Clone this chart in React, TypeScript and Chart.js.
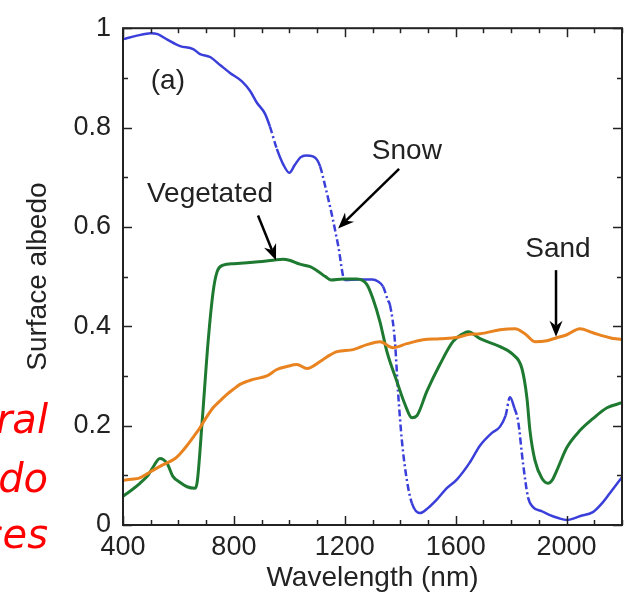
import React, { useEffect, useRef } from 'react';
import { Chart, registerables } from 'chart.js';

Chart.register(...registerables);

// ---------- data (wavelength in nm, surface albedo) ----------
const snowNm = [400, 450, 500, 525, 560, 606, 653, 678, 714, 750, 786, 829, 858, 883, 912, 930, 955, 977, 1000, 1020, 1040, 1060, 1085, 1100, 1111, 1129, 1154, 1176, 1200, 1250, 1300, 1320, 1338, 1356, 1363, 1381, 1392, 1406, 1424, 1442, 1471, 1500, 1530, 1568, 1605, 1650, 1688, 1730, 1760, 1780, 1796, 1812, 1825, 1843, 1861, 1879, 1910, 1940, 1970, 2001, 2050, 2095, 2130, 2156, 2200];
const snowAlbedo = [0.978, 0.985, 0.99, 0.988, 0.977, 0.964, 0.958, 0.948, 0.942, 0.926, 0.91, 0.893, 0.874, 0.85, 0.828, 0.802, 0.757, 0.727, 0.709, 0.725, 0.74, 0.744, 0.742, 0.735, 0.722, 0.683, 0.623, 0.563, 0.493, 0.494, 0.494, 0.49, 0.48, 0.452, 0.443, 0.369, 0.269, 0.17, 0.09, 0.044, 0.024, 0.034, 0.05, 0.074, 0.092, 0.125, 0.16, 0.185, 0.198, 0.22, 0.257, 0.235, 0.21, 0.124, 0.056, 0.036, 0.028, 0.02, 0.014, 0.01, 0.018, 0.026, 0.045, 0.064, 0.096];

const vegNm = [400, 430, 461, 490, 508, 533, 559, 580, 605, 631, 660, 668, 685, 707, 725, 739, 761, 800, 869, 941, 977, 1000, 1038, 1075, 1100, 1130, 1150, 1194, 1244, 1280, 1302, 1327, 1352, 1388, 1417, 1442, 1460, 1496, 1543, 1590, 1626, 1645, 1688, 1760, 1807, 1839, 1857, 1868, 1886, 1911, 1933, 1950, 1965, 2001, 2048, 2095, 2146, 2200];
const vegAlbedo = [0.058, 0.07, 0.084, 0.1, 0.116, 0.134, 0.124, 0.098, 0.086, 0.077, 0.074, 0.088, 0.204, 0.369, 0.469, 0.509, 0.523, 0.526, 0.529, 0.533, 0.535, 0.533, 0.525, 0.52, 0.512, 0.5, 0.493, 0.495, 0.495, 0.484, 0.455, 0.409, 0.349, 0.289, 0.243, 0.216, 0.22, 0.269, 0.323, 0.369, 0.385, 0.389, 0.375, 0.359, 0.343, 0.315, 0.256, 0.19, 0.13, 0.094, 0.084, 0.092, 0.11, 0.156, 0.19, 0.214, 0.236, 0.246];

const sandNm = [400, 430, 461, 490, 508, 540, 588, 610, 631, 655, 678, 700, 725, 750, 775, 800, 822, 869, 919, 955, 991, 1027, 1064, 1111, 1140, 1172, 1230, 1280, 1327, 1374, 1424, 1482, 1543, 1608, 1650, 1688, 1760, 1814, 1850, 1886, 1929, 1965, 2001, 2048, 2095, 2156, 2200];
const sandAlbedo = [0.09, 0.092, 0.095, 0.104, 0.11, 0.12, 0.134, 0.146, 0.16, 0.178, 0.196, 0.216, 0.236, 0.25, 0.263, 0.274, 0.283, 0.293, 0.3, 0.313, 0.319, 0.323, 0.315, 0.329, 0.34, 0.349, 0.353, 0.363, 0.369, 0.357, 0.365, 0.373, 0.375, 0.378, 0.384, 0.385, 0.393, 0.395, 0.385, 0.369, 0.371, 0.377, 0.383, 0.395, 0.387, 0.377, 0.373];

const xTickValues = [400, 800, 1200, 1600, 2000];
const yTickValues = [0, 0.2, 0.4, 0.6, 0.8, 1];
const xRange = [400, 2200];
const yRange = [0, 1];

// annotation texts (positions in data units)
const labelTexts = ['(a)', 'Vegetated', 'Snow', 'Sand'];
const labelNm = [562, 714, 1424, 1969];
const labelAlbedo = [0.894, 0.665, 0.752, 0.555];
// arrows: tail -> head (data units)
const arrowFromNm = [887, 1396, 1962];
const arrowFromAlbedo = [0.623, 0.717, 0.513];
const arrowToNm = [952, 1176, 1962];
const arrowToAlbedo = [0.533, 0.597, 0.379];

const sideTexts = ['ral', 'do', 'ces'];

const FONT = "'Liberation Sans', Arial, Helvetica, sans-serif";
const TICK_SIZE = 27;
const TEXT_SIZE = 28;
const INK = '#222222';

const toPoints = (xs: number[], ys: number[]) => xs.map((v, i) => ({ x: v, y: ys[i] }));

const framePlugin = {
  id: 'frameTicks',
  afterDraw(chart: any) {
    const { ctx, chartArea } = chart;
    const { left, right, top, bottom } = chartArea;
    const xs = chart.scales.x;
    const ys = chart.scales.y;
    ctx.save();
    ctx.strokeStyle = INK;
    ctx.lineWidth = 1.5;
    const seg = (a: number, b: number, c: number, d: number) => {
      ctx.beginPath();
      ctx.moveTo(a, b);
      ctx.lineTo(c, d);
      ctx.stroke();
    };
    for (let i = 0; i <= 18; i++) {
      const v = xRange[0] + i * 100;
      const px = Math.round(xs.getPixelForValue(v)) + 0.5;
      const len = i % 4 === 0 ? 9 : 5;
      seg(px, bottom, px, bottom - len);
      seg(px, top, px, top + len);
    }
    for (let i = 0; i <= 10; i++) {
      const v = i / 10;
      const py = Math.round(ys.getPixelForValue(v)) + 0.5;
      const len = i % 2 === 0 ? 9 : 5;
      seg(left, py, left + len, py);
      seg(right, py, right - len, py);
    }
    ctx.lineWidth = 2;
    ctx.strokeRect(left, top, right - left, bottom - top);
    ctx.restore();
  },
};

const annotationPlugin = {
  id: 'annotations',
  afterDatasetsDraw(chart: any) {
    const { ctx } = chart;
    const xs = chart.scales.x;
    const ys = chart.scales.y;
    ctx.save();
    ctx.fillStyle = INK;
    ctx.font = `${TEXT_SIZE}px ${FONT}`;
    ctx.textAlign = 'center';
    ctx.textBaseline = 'middle';
    labelTexts.forEach((t, i) => {
      ctx.fillText(t, xs.getPixelForValue(labelNm[i]), ys.getPixelForValue(labelAlbedo[i]));
    });
    ctx.strokeStyle = '#000';
    ctx.fillStyle = '#000';
    ctx.lineWidth = 2.5;
    arrowFromNm.forEach((_, i) => {
      const x0 = xs.getPixelForValue(arrowFromNm[i]);
      const y0 = ys.getPixelForValue(arrowFromAlbedo[i]);
      const x1 = xs.getPixelForValue(arrowToNm[i]);
      const y1 = ys.getPixelForValue(arrowToAlbedo[i]);
      const ang = Math.atan2(y1 - y0, x1 - x0);
      const headLen = 16;
      const headW = 6.5;
      const notch = 11;
      const ux = Math.cos(ang);
      const uy = Math.sin(ang);
      ctx.beginPath();
      ctx.moveTo(x0, y0);
      ctx.lineTo(x1 - ux * notch, y1 - uy * notch);
      ctx.stroke();
      ctx.beginPath();
      ctx.moveTo(x1, y1);
      ctx.lineTo(x1 - ux * headLen - uy * headW, y1 - uy * headLen + ux * headW);
      ctx.lineTo(x1 - ux * notch, y1 - uy * notch);
      ctx.lineTo(x1 - ux * headLen + uy * headW, y1 - uy * headLen - ux * headW);
      ctx.closePath();
      ctx.fill();
    });
    ctx.restore();
  },
};

export default function App() {
  const canvasRef = useRef<HTMLCanvasElement | null>(null);

  useEffect(() => {
    document.body.style.margin = '0';
    const canvas = canvasRef.current;
    if (!canvas) return;
    const steepDash = (c: any) => {
      const dx = Math.abs(c.p1.x - c.p0.x);
      const dy = Math.abs(c.p1.y - c.p0.y);
      return dy > 2.6 * dx ? [7, 3, 2, 3] : undefined;
    };
    const chart = new Chart(canvas, {
      type: 'line',
      data: {
        datasets: [
          {
            label: 'Sand',
            data: toPoints(sandNm, sandAlbedo),
            borderColor: '#e8831f',
            borderWidth: 3,
            pointRadius: 0,
            cubicInterpolationMode: 'monotone',
          },
          {
            label: 'Vegetated',
            data: toPoints(vegNm, vegAlbedo),
            borderColor: '#1f7a31',
            borderWidth: 3,
            pointRadius: 0,
            cubicInterpolationMode: 'monotone',
          },
          {
            label: 'Snow',
            data: toPoints(snowNm, snowAlbedo),
            borderColor: '#3b3fd9',
            borderWidth: 2.5,
            pointRadius: 0,
            cubicInterpolationMode: 'monotone',
            segment: { borderDash: steepDash },
          },
        ],
      } as any,
      options: {
        responsive: false,
        animation: false,
        devicePixelRatio: 1,
        layout: { padding: { left: 0, top: 24, right: 14, bottom: 0 } },
        plugins: { legend: { display: false }, tooltip: { enabled: false } },
        scales: {
          x: {
            type: 'linear',
            min: xRange[0],
            max: xRange[1],
            afterBuildTicks: (s: any) => {
              s.ticks = xTickValues.map((v) => ({ value: v }));
            },
            afterFit: (s: any) => {
              s.height = 68;
            },
            grid: { display: false, drawTicks: false },
            border: { display: false },
            ticks: {
              autoSkip: false,
              maxRotation: 0,
              padding: 6,
              color: INK,
              font: { family: FONT, size: TICK_SIZE },
              callback: (v: any) => String(v),
            },
            title: {
              display: true,
              text: 'Wavelength (nm)',
              color: INK,
              font: { family: FONT, size: TEXT_SIZE, lineHeight: 1 },
              padding: { top: 0, bottom: 1 },
            },
          },
          y: {
            type: 'linear',
            min: yRange[0],
            max: yRange[1],
            afterBuildTicks: (s: any) => {
              s.ticks = yTickValues.map((v) => ({ value: v }));
            },
            afterFit: (s: any) => {
              s.width = 123;
            },
            grid: { display: false, drawTicks: false },
            border: { display: false },
            ticks: {
              padding: 12,
              color: INK,
              font: { family: FONT, size: TICK_SIZE },
              callback: (v: any) => String(Math.round(Number(v) * 10) / 10),
            },
            title: {
              display: true,
              text: 'Surface albedo',
              color: INK,
              font: { family: FONT, size: TEXT_SIZE, lineHeight: 1 },
              padding: { top: 24, bottom: 0 },
            },
          },
        },
      } as any,
      plugins: [framePlugin, annotationPlugin],
    });
    return () => chart.destroy();
  }, []);

  const sideTops = [399, 458, 514];

  return (
    <div style={{ position: 'relative', width: 636, height: 593, overflow: 'hidden', background: '#fff' }}>
      <canvas ref={canvasRef} width={636} height={593} style={{ display: 'block', width: 636, height: 593 }} />
      {sideTexts.map((t, i) => (
        <div
          key={t}
          style={{
            position: 'absolute',
            left: -200,
            width: 248,
            top: sideTops[i],
            textAlign: 'right',
            fontSize: 40,
            lineHeight: '40px',
            color: '#ff0000',
            fontStyle: 'italic',
            fontFamily: "'DejaVu Sans', sans-serif",
            whiteSpace: 'nowrap',
          }}
        >
          {t}
        </div>
      ))}
    </div>
  );
}
